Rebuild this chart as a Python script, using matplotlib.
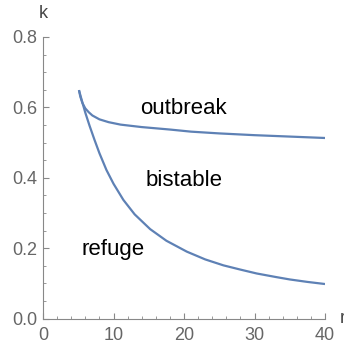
import matplotlib
matplotlib.use("Agg")
import matplotlib.pyplot as plt
from matplotlib.ticker import MultipleLocator

plt.rcParams['font.family'] = ['Liberation Sans', 'DejaVu Sans']

# Upper boundary (outbreak / bistable)
r_upper = [5.1, 5.3, 5.6, 6.0, 6.5, 7.0, 8.0, 9.3, 11.0, 14.0, 18.0, 21.0, 25.0, 30.0, 35.0, 40.0]
k_upper = [0.649, 0.630, 0.612, 0.597, 0.586, 0.577, 0.566, 0.558, 0.551, 0.544, 0.537, 0.531,
           0.526, 0.521, 0.517, 0.513]

# Lower boundary (bistable / refuge)
r_lower = [5.1, 5.5, 6.0, 6.6, 7.3, 8.0, 9.0, 10.0, 11.4, 13.0, 15.2, 17.5, 20.4, 23.0, 25.6,
           28.0, 30.3, 33.0, 35.0, 37.5, 40.0]
k_lower = [0.649, 0.620, 0.585, 0.548, 0.508, 0.470, 0.422, 0.383, 0.337, 0.296, 0.254, 0.221,
           0.190, 0.168, 0.151, 0.139, 0.128, 0.118, 0.111, 0.104, 0.098]

x_ticks = [0, 10, 20, 30, 40]
y_ticks = [0.0, 0.2, 0.4, 0.6, 0.8]
y_tick_labels = ['0.0', '0.2', '0.4', '0.6', '0.8']

regions = ['outbreak', 'bistable', 'refuge']
region_r = [19.9, 20.0, 10.0]
region_k = [0.580, 0.376, 0.180]

line_color = '#5E81B5'
axis_color = '#888888'
label_color = '#666666'

fig = plt.figure(figsize=(3.44, 3.47), dpi=100)
ax = fig.add_axes([0.125, 0.0821, 0.8198, 0.8113])

ax.plot(r_upper, k_upper, color=line_color, lw=1.6, solid_capstyle='butt', solid_joinstyle='round')
ax.plot(r_lower, k_lower, color=line_color, lw=1.6, solid_capstyle='butt', solid_joinstyle='round')

ax.set_xlim(0, 40)
ax.set_ylim(0, 0.8)
ax.set_xticks(x_ticks)
ax.set_yticks(y_ticks)
ax.set_yticklabels(y_tick_labels)
ax.xaxis.set_minor_locator(MultipleLocator(2))
ax.yaxis.set_minor_locator(MultipleLocator(0.05))

for s in ['top', 'right']:
    ax.spines[s].set_visible(False)
for s in ['left', 'bottom']:
    ax.spines[s].set_color(axis_color)
    ax.spines[s].set_linewidth(0.8)

ax.tick_params(which='major', direction='in', length=4, width=0.8, color=axis_color,
               labelcolor=label_color, labelsize=13)
ax.tick_params(which='minor', direction='in', length=2.2, width=0.6, color=axis_color)
ax.tick_params(axis='x', which='major', pad=6)
ax.tick_params(axis='y', which='major', pad=4)

for name, rx, ky in zip(regions, region_r, region_k):
    ax.text(rx, ky, name, ha='center', va='baseline', fontsize=16, color='black')

ax.text(0, 0.853, 'k', ha='center', va='baseline', fontsize=13, color='#444444', clip_on=False)
ax.text(42.1, 0.0, 'r', ha='left', va='center', fontsize=13, color='#444444', clip_on=False)

fig.savefig('out.png', dpi=100)
